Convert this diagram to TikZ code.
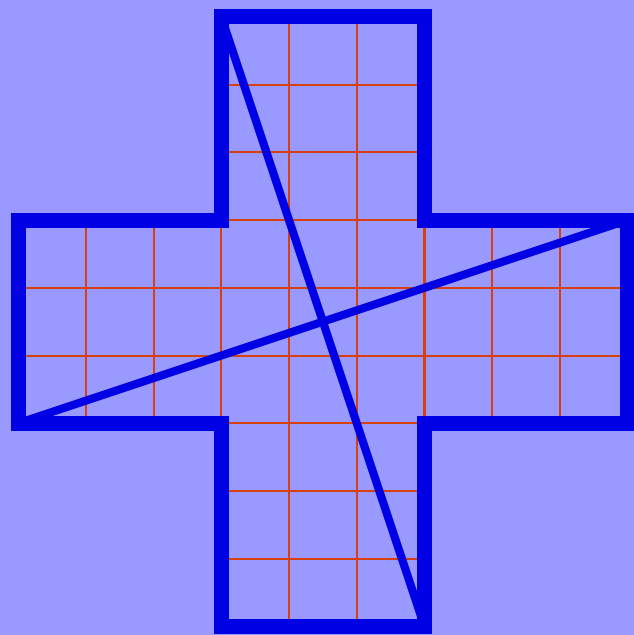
\documentclass[tikz,border=0pt]{standalone}
\usetikzlibrary{calc}
\definecolor{bgblue}{RGB}{153,153,255}
\definecolor{crossblue}{RGB}{0,0,228}
\definecolor{gridred}{RGB}{214,64,16}

\begin{document}
\begin{tikzpicture}[x=1cm,y=1cm]

% Background
\fill[bgblue] (-0.266,-0.125) rectangle (9.092,9.248);
\useasboundingbox (-0.266,-0.125) rectangle (9.092,9.248);

%-------------------------------------------------
% Corners of the cross
%-------------------------------------------------

\coordinate (A) at (3,9);
\coordinate (B) at (6,9);
\coordinate (C) at (6,6);
\coordinate (D) at (9,6);
\coordinate (E) at (9,3);
\coordinate (F) at (6,3);
\coordinate (G) at (6,0);
\coordinate (H) at (3,0);
\coordinate (I) at (3,3);
\coordinate (J) at (0,3);
\coordinate (K) at (0,6);
\coordinate (L) at (3,6);

%-------------------------------------------------
% Grid
%-------------------------------------------------

\draw[gridred, line width=0.85pt] (0,3) grid (9,6);
\draw[gridred, line width=0.85pt] (3,0) grid (6,9);

%-------------------------------------------------
% Diagonals
%-------------------------------------------------

\draw[crossblue, line width=3.4pt] (A) -- (G);
\draw[crossblue, line width=3.4pt] (J) -- (D);

%-------------------------------------------------
% Outline
%-------------------------------------------------

\draw[crossblue, line width=6.3pt]
(A) -- (B) -- (C) -- (D) -- (E) -- (F) -- (G) -- (H) -- (I) -- (J) -- (K) -- (L) -- cycle;

\end{tikzpicture}
\end{document}
